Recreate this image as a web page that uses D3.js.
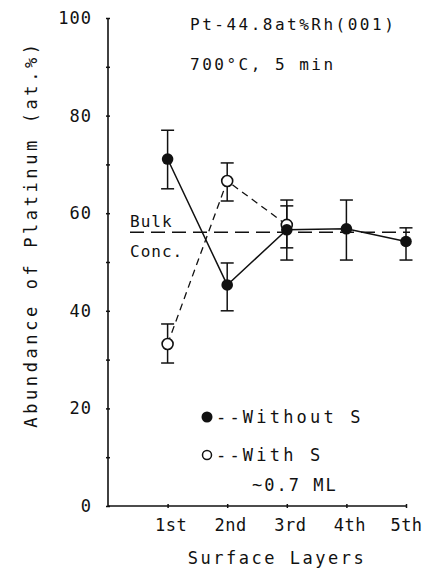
<!DOCTYPE html>
<html>
<head>
<meta charset="utf-8">
<script src="https://cdn.jsdelivr.net/npm/d3@7"></script>
<style>
  body { margin: 0; background: #fff; }
  text { font-family: "DejaVu Sans Mono", monospace; fill: #111; }
</style>
</head>
<body>
<div id="chart"></div>
<script>
// layers along x
const layers = ["1st", "2nd", "3rd", "4th", "5th"];
// without S (filled)
const withoutS = [71.1, 45.3, 56.6, 56.8, 54.2];
const withoutLo = [65.0, 40.0, 50.4, 50.4, 50.4];
const withoutHi = [77.0, 49.8, 62.7, 62.7, 57.0];
// with S ~0.7 ML (open), only first three layers
const withS = [33.2, 66.6, 57.6];
const withLo = [29.3, 62.5, 52.9];
const withHi = [37.3, 70.3, 61.5];
const bulk = 56.1;
const yTicks = [0, 10, 20, 30, 40, 50, 60, 70, 80, 90, 100];
const yLabels = [0, 20, 40, 60, 80, 100];

const W = 427, H = 569;
const svg = d3.select("#chart").append("svg")
    .attr("width", W).attr("height", H);

const x = d3.scaleLinear().domain([0, 5]).range([108, 406]);
const y = d3.scaleLinear().domain([0, 100]).range([506, 18]);

//------- axes -------
const yAxis = d3.axisLeft(y)
    .tickValues(yTicks)
    .tickSize(3)
    .tickFormat(d => yLabels.includes(d) ? d : "");
const gy = svg.append("g").attr("transform", "translate(108,0)").call(yAxis);
gy.select(".domain").attr("stroke", "#111").attr("stroke-width", 1.6).attr("d", "M0,18V506");
gy.selectAll(".tick line").attr("stroke", "#111").attr("x1", 2).attr("x2", -2).attr("stroke-width", 1.5);
gy.selectAll(".tick text").attr("x", -16)
    .style("font-size", "17px").style("font-family", "DejaVu Sans Mono").style("letter-spacing", "1px");

const xAxis = d3.axisBottom(x)
    .tickValues([1, 2, 3, 4, 5])
    .tickSize(2)
    .tickFormat(d => layers[d - 1]);
const gx = svg.append("g").attr("transform", "translate(0,506)").call(xAxis);
gx.select(".domain").attr("stroke", "#111").attr("stroke-width", 1.6).attr("d", "M108,0H406");
gx.selectAll(".tick line").attr("stroke", "#111").attr("y1", -2).attr("y2", 2).attr("stroke-width", 1.5);
gx.selectAll(".tick text").attr("y", 13).attr("dx", d => d === 5 ? 0 : 3)
    .style("font-size", "17px").style("font-family", "DejaVu Sans Mono").style("letter-spacing", "0.5px");

svg.append("text")
    .attr("x", 277).attr("y", 564)
    .attr("text-anchor", "middle")
    .style("font-size", "17px").style("letter-spacing", "2.5px")
    .text("Surface Layers");

svg.append("text")
    .attr("transform", "translate(37,234) rotate(-90)")
    .attr("text-anchor", "middle")
    .style("font-size", "17px").style("letter-spacing", "3.6px")
    .text("Abundance of Platinum (at.%)");

//------- annotations -------
svg.append("text").attr("x", 190).attr("y", 30)
    .style("font-size", "16px").style("letter-spacing", "2.5px")
    .text("Pt-44.8at%Rh(001)");
svg.append("text").attr("x", 190).attr("y", 70)
    .style("font-size", "16px").style("letter-spacing", "2.5px")
    .text("700°C, 5 min");

svg.append("text").attr("x", 130).attr("y", 227)
    .style("font-size", "16px").style("letter-spacing", "1px")
    .text("Bulk");
svg.append("text").attr("x", 130).attr("y", 257)
    .style("font-size", "16px").style("letter-spacing", "1px")
    .text("Conc.");

//------- bulk line -------
svg.append("line")
    .attr("x1", 130).attr("x2", 410)
    .attr("y1", y(bulk)).attr("y2", y(bulk))
    .attr("stroke", "#111").attr("stroke-width", 1.3)
    .attr("stroke-dasharray", "14,7");

//------- lines -------
const line = d3.line().x((d, i) => x(i + 1)).y(d => y(d));
svg.append("path").attr("d", line(withoutS))
    .attr("fill", "none").attr("stroke", "#111").attr("stroke-width", 1.5);
svg.append("path").attr("d", line(withS))
    .attr("fill", "none").attr("stroke", "#111").attr("stroke-width", 1.3)
    .attr("stroke-dasharray", "7,5");

//------- error bars -------
function errBars(lo, hi) {
    lo.forEach((l, i) => {
        const cx = x(i + 1), c = 6.5;
        const g = svg.append("g").attr("stroke", "#111").attr("stroke-width", 1.5);
        g.append("line").attr("x1", cx).attr("x2", cx).attr("y1", y(l)).attr("y2", y(hi[i]));
        g.append("line").attr("x1", cx - c).attr("x2", cx + c).attr("y1", y(l)).attr("y2", y(l));
        g.append("line").attr("x1", cx - c).attr("x2", cx + c).attr("y1", y(hi[i])).attr("y2", y(hi[i]));
    });
}
errBars(withoutLo, withoutHi);
errBars(withLo, withHi);

//------- markers -------
svg.selectAll(".open").data(withS).enter().append("circle")
    .attr("cx", (d, i) => x(i + 1)).attr("cy", d => y(d)).attr("r", 5.5)
    .attr("fill", "#fff").attr("stroke", "#111").attr("stroke-width", 1.6);
svg.selectAll(".filled").data(withoutS).enter().append("circle")
    .attr("cx", (d, i) => x(i + 1)).attr("cy", d => y(d)).attr("r", 5.8)
    .attr("fill", "#111");

//------- legend -------
svg.append("circle").attr("cx", 207).attr("cy", 417).attr("r", 5.5).attr("fill", "#111");
svg.append("text").attr("x", 216).attr("y", 423)
    .style("font-size", "17px").style("letter-spacing", "3.2px")
    .text("--Without S");
svg.append("circle").attr("cx", 207).attr("cy", 455).attr("r", 4.5)
    .attr("fill", "#fff").attr("stroke", "#111").attr("stroke-width", 1.5);
svg.append("text").attr("x", 216).attr("y", 461)
    .style("font-size", "17px").style("letter-spacing", "3.2px")
    .text("--With S");
svg.append("text").attr("x", 252).attr("y", 491)
    .style("font-size", "17px").style("letter-spacing", "2px")
    .text("~0.7  ML");
</script>
</body>
</html>
